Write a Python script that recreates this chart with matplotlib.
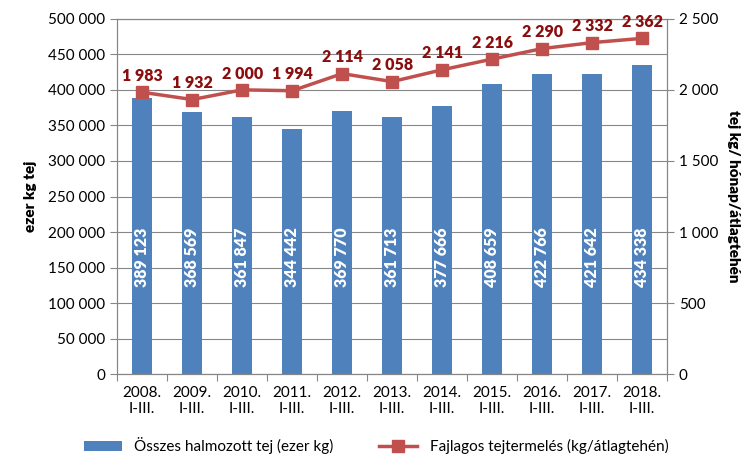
import matplotlib
matplotlib.use("Agg")
import matplotlib.pyplot as plt
from matplotlib.ticker import FuncFormatter

plt.rcParams['font.family'] = ['Lato', 'DejaVu Sans']

years = ["2008.", "2009.", "2010.", "2011.", "2012.", "2013.", "2014.", "2015.", "2016.", "2017.", "2018."]
period = "I-III."
total_milk = [389123, 368569, 361847, 344442, 369770, 361713, 377666, 408659, 422766, 421642, 434338]
specific_yield = [1983, 1932, 2000, 1994, 2114, 2058, 2141, 2216, 2290, 2332, 2362]

BAR = "#4F81BD"
LINE = "#C0504D"
LABEL = "#8B0E0E"
FS = 11


def spaced(v, _=None):
    return f"{int(v):,}".replace(",", " ")


fig, ax = plt.subplots(figsize=(7.52, 4.68), dpi=100)
fig.subplots_adjust(left=0.156, right=0.887, top=0.96, bottom=0.2)
ax2 = ax.twinx()

x = list(range(len(years)))
ax.bar(x, total_milk, width=0.4, color=BAR, zorder=2,
       label="Összes halmozott tej (ezer kg)")
for xi, v in zip(x, total_milk):
    ax.text(xi, 165000, spaced(v), rotation=90, ha="center", va="center",
            color="white", fontsize=FS + 0.5, fontweight="heavy", zorder=3)

ax.set_ylim(0, 500000)
ax.set_yticks(range(0, 500001, 50000))
ax.yaxis.set_major_formatter(FuncFormatter(spaced))
ax.set_xlim(-0.5, len(years) - 0.5)
ax.set_xticks([i - 0.5 for i in range(len(years) + 1)])
ax.set_xticklabels([])
ax.set_xticks(x, minor=True)
ax.set_xticklabels([f"{y}\n{period}" for y in years], minor=True)
ax.tick_params(axis="x", which="minor", length=0, pad=8, labelsize=FS)
ax.tick_params(axis="x", which="major", length=5, color="#868686")
ax.tick_params(axis="y", length=5, color="#868686", labelsize=FS)
ax.grid(axis="y", color="#868686", lw=0.8, zorder=0)
ax.set_axisbelow(True)
for s in list(ax.spines.values()) + list(ax2.spines.values()):
    s.set_color("#868686")
ax.set_ylabel("ezer kg tej", fontsize=FS, fontweight="heavy", labelpad=8)

ax2.plot(x, specific_yield, "-s", color=LINE, lw=2.5, ms=9, zorder=4,
         label="Fajlagos tejtermelés (kg/átlagtehén)")
for xi, v in zip(x, specific_yield):
    ax2.annotate(spaced(v), (xi, v), xytext=(0, 6), textcoords="offset points",
                 ha="center", va="bottom", color=LABEL, fontsize=FS + 0.5,
                 fontweight="heavy")
ax2.set_ylim(0, 2500)
ax2.set_yticks(range(0, 2501, 500))
ax2.yaxis.set_major_formatter(FuncFormatter(spaced))
ax2.tick_params(axis="y", length=5, color="#868686", labelsize=FS)
ax2.set_ylabel("tej kg/ hónap/átlagtehén", rotation=-90, fontsize=FS,
               fontweight="heavy", labelpad=16)

h1, l1 = ax.get_legend_handles_labels()
h2, l2 = ax2.get_legend_handles_labels()
fig.legend(h1 + h2, l1 + l2, loc="lower center", ncol=2, frameon=False,
           fontsize=FS, bbox_to_anchor=(0.5, 0.0), columnspacing=3.0,
           handlelength=2.5)

fig.savefig("out.png")
